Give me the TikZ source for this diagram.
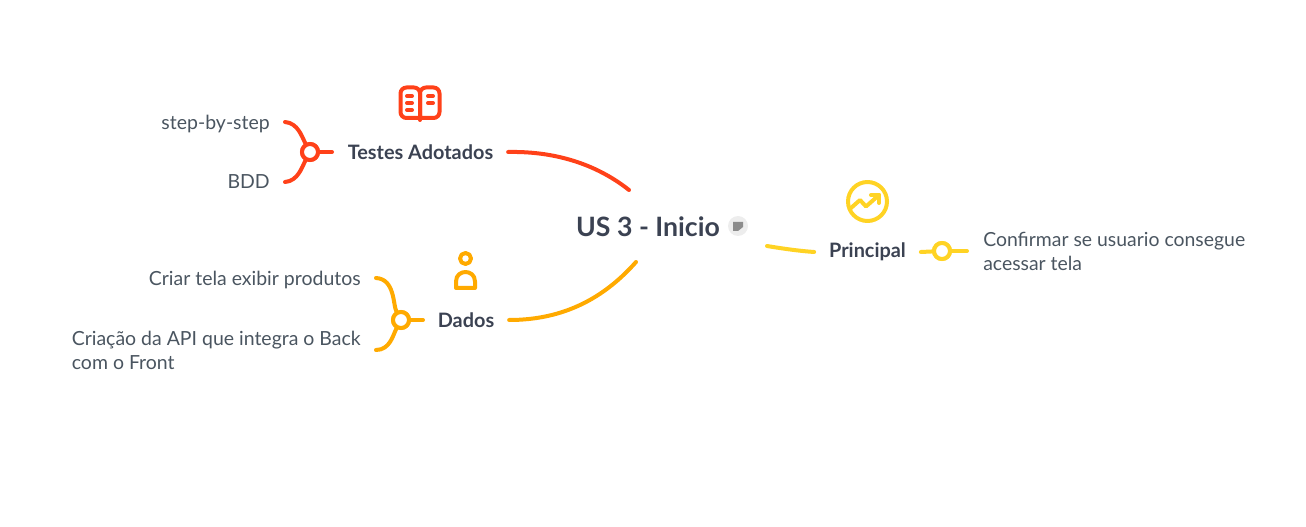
\documentclass[tikz,border=0pt]{standalone}
\usepackage{fontspec}
\setmainfont{Lato}
\usetikzlibrary{positioning}
\definecolor{inkmain}{HTML}{3B4252}
\definecolor{inksub}{HTML}{4A5560}
\definecolor{redbranch}{HTML}{FF4119}
\definecolor{orangebranch}{HTML}{FFAA00}
\definecolor{yellowbranch}{HTML}{FFD324}
\tikzset{
  rootnode/.style={text=inkmain, font=\fontsize{20}{24}\selectfont\bfseries, inner sep=0pt},
  topicnode/.style={text=inkmain, font=\fontsize{14.9}{18}\selectfont\bfseries, inner xsep=11.25pt, inner ysep=0pt, outer sep=0pt},
  subleft/.style={text=inksub, font=\fontsize{14.6}{18}\selectfont, anchor=east, align=left, inner sep=0pt},
  subright/.style={text=inksub, font=\fontsize{14.55}{18}\selectfont, anchor=west, align=left, inner sep=0pt},
  junction/.style={circle, draw, fill=white, line width=3pt, minimum size=12pt, inner sep=0pt},
  branch/.style={line width=3pt, line cap=round},
  iconline/.style={line width=3pt, line cap=round, line join=round}
}
\begin{document}
\begin{tikzpicture}[x=0.75pt, y=-0.75pt]
  \useasboundingbox (0,0) rectangle (1306,527);
  % center
  \node[rootnode] (root) at (648,227) {US 3 - Inicio};
  \coordinate (rootTL) at (629,190);
  \coordinate (rootBL) at (636,262);
  \coordinate (rootR) at (767,246);
  % topics
  \node[topicnode] (testes) at (420.5,152) {Testes Adotados};
  \node[topicnode] (dados) at (466,320) {Dados};
  \node[topicnode] (principal) at (867.5,252) {Principal};
  % junctions
  \coordinate (stepEnd) at (285,122);
  \coordinate (bddEnd) at (285,182);
  \coordinate (criarEnd) at (376,278);
  \coordinate (apiEnd) at (376,350);
  \coordinate (confirmarEnd) at (967,251);
  \coordinate (testesStub) at (332,152);
  \coordinate (dadosStub) at (423,320);
  \node[junction, draw=redbranch] (jTestes) at (310,152) {};
  \node[junction, draw=orangebranch] (jDados) at (401,320) {};
  \node[junction, draw=yellowbranch] (jPrincipal) at (942,251) {};
  % subtopics
  \node[subleft] (step) at (270,124) {step-by-step};
  \node[subleft] (bdd) at (270,181.5) {BDD};
  \node[subleft] (criar) at (361,280) {Criar tela exibir produtos};
  \node[subleft] (api) at (361,350) {Criação da API que integra o Back\\com o Front};
  \node[subright] (confirmar) at (983,251) {Confirmar se usuario consegue\\acessar tela};
  % connectors
  \draw[branch, redbranch] (testes.east) .. controls (560,151) and (600,167) .. (rootTL);
  \draw[branch, orangebranch] (dados.east) .. controls (565,320) and (605,297) .. (rootBL);
  \draw[branch, yellowbranch] (rootR) .. controls (785,249) and (800,251) .. (principal.west);
  \draw[branch, redbranch] (stepEnd) .. controls (298,123) and (302,137) .. (jTestes);
  \draw[branch, redbranch] (bddEnd) .. controls (298,181) and (302,167) .. (jTestes);
  \draw[branch, redbranch] (jTestes) -- (testesStub);
  \draw[branch, orangebranch] (criarEnd) .. controls (395,279) and (393,305) .. (jDados);
  \draw[branch, orangebranch] (apiEnd) .. controls (390,350) and (393,335) .. (jDados);
  \draw[branch, orangebranch] (jDados) -- (dadosStub);
  \draw[branch, yellowbranch] (principal.east) -- (jPrincipal);
  \draw[branch, yellowbranch] (jPrincipal) -- (confirmarEnd);
  \node[junction, draw=redbranch] at (jTestes) {};
  \node[junction, draw=orangebranch] at (jDados) {};
  \node[junction, draw=yellowbranch] at (jPrincipal) {};
  % note mark
  \fill[black!7] (738,226) circle (10);
  \fill[black!45] (733,222) -- (743,222) -- (743,227) -- (738,231) -- (733,231) -- cycle;
  % book icon
  \draw[iconline, redbranch, rounded corners=4.5pt] (420,118) -| (400.5,87.5) -| (420,118);
  \draw[iconline, redbranch, rounded corners=4.5pt] (420,118) -| (439.5,87.5) -| (420,118);
  \draw[iconline, redbranch] (420,118) -- (420,120);
  \foreach \y in {96,103,110} \draw[iconline, redbranch] (407,\y) -- (412,\y);
  \foreach \y in {96,103} \draw[iconline, redbranch] (428,\y) -- (433,\y);
  % person icon
  \draw[iconline, orangebranch] (465.5,258.5) circle (5.5);
  \draw[iconline, orangebranch] (456,288) -- (456,281.5) .. controls (456,275) and (461,272) .. (465.5,272) .. controls (470,272) and (475,275) .. (475,281.5) -- (475,288) -- cycle;
  % chart icon
  \draw[iconline, yellowbranch] (867.5,201.5) circle (19.5);
  \draw[iconline, yellowbranch] (851,208) -- (860,200) -- (866,206.5) -- (879,195);
  \draw[iconline, yellowbranch] (871,195) -- (879,195) -- (879,203);
\end{tikzpicture}
\end{document}
